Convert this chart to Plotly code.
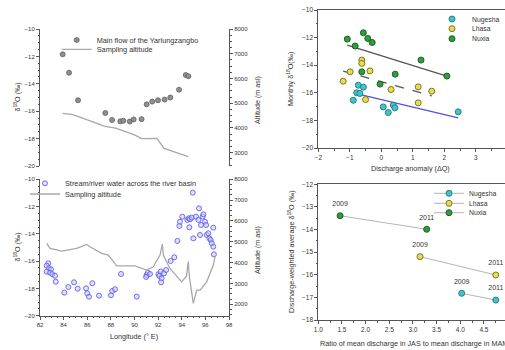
import plotly.graph_objects as go

# ---------------- data ----------------
# Top-left: main flow of the Yarlungzangbo
lon_main = [83.92, 84.46, 85.22, 87.53, 88.10, 88.80, 89.05, 89.60, 89.93, 90.60,
            91.03, 91.50, 91.99, 92.55, 93.03, 93.77, 94.34, 94.56]
d18o_main = [-11.85, -13.19, -15.20, -16.13, -16.64, -16.74, -16.70, -16.75, -16.60, -16.58,
             -15.50, -15.30, -15.20, -15.15, -15.00, -14.43, -13.36, -13.45]
lon_alt_main = [83.90, 84.70, 85.50, 86.50, 87.50, 88.40, 89.20, 90.00, 90.60, 91.40,
                91.90, 92.50, 93.50, 94.55]
alt_main = [4590, 4550, 4420, 4250, 4060, 3990, 3840, 3720, 3570, 3570,
            3580, 3170, 3010, 2840]

# Bottom-left: stream/river water across the basin
lon_basin = [82.70, 82.57, 82.76, 82.57, 82.93, 82.85, 83.04, 83.27, 83.33,
             84.06, 84.40, 84.88, 85.19, 85.90, 86.00, 86.15, 86.43, 87.00, 88.01, 88.12,
             88.35, 88.86, 90.19,
             91.03, 91.12, 91.31, 90.98, 92.02, 92.22, 92.10, 92.30, 92.25, 92.50, 92.67,
             93.06, 93.37, 93.63,
             93.80, 93.85, 94.05, 94.47, 94.59, 94.70, 94.84, 94.64, 94.93, 94.98, 95.21,
             95.46, 95.41, 95.55, 95.63, 95.77, 95.83, 95.97, 96.06, 96.11, 96.25, 96.34,
             96.45, 96.54, 96.67, 96.67, 96.72]
d18o_basin = [-16.16, -16.33, -16.52, -16.77, -16.60, -16.85, -16.96, -17.07, -17.51,
              -18.31, -17.90, -17.55, -18.02, -17.99, -18.36, -18.61, -17.62, -18.53, -18.50, -18.19,
              -18.06, -16.94, -18.60,
              -17.02, -16.85, -16.94, -17.16, -16.96, -16.77, -17.09, -17.26, -17.55, -16.89, -16.65,
              -15.99, -15.72, -14.52,
              -13.42, -13.11, -12.74, -12.98, -12.86, -12.93, -12.81, -13.52, -10.98, -14.33, -12.74,
              -12.13, -12.98, -14.08, -13.35, -12.74, -12.57, -13.11, -13.35, -14.08, -13.96, -14.33,
              -14.45, -14.69, -13.55, -14.94, -15.50]
lon_alt_basin = [82.57, 82.85, 83.84, 85.11, 85.95, 86.23, 87.22, 87.78, 88.12, 88.49,
                 90.04, 91.03, 91.59, 92.16, 92.36, 92.44, 93.00, 93.99, 94.40, 94.55,
                 94.65, 94.98, 95.27, 95.55, 96.11, 96.67, 96.82]
alt_basin = [4923, 4683, 4553, 4683, 4875, 4760, 4442, 4360, 4120, 3846,
             3846, 3640, 3800, 4360, 4890, 4360, 3720, 3077, 3350, 4050,
             3300, 2040, 2680, 2680, 3077, 3880, 4300]

# Top-right: monthly d18O vs discharge anomaly
stations = ["Nugesha", "Lhasa", "Nuxia"]
nug_dq = [-0.73, -0.57, -0.78, -0.68, -0.89, 0.06, 0.22, 0.38, 0.43, 2.44]
nug_d = [-15.45, -15.59, -16.00, -16.05, -16.54, -17.02, -17.43, -16.90, -17.09, -17.38]
lha_dq = [-1.21, -0.99, -0.62, -0.62, -0.36, -0.50, 0.31, 1.17, 1.17, 1.60]
lha_d = [-15.16, -14.48, -13.63, -13.87, -14.41, -16.49, -15.76, -15.57, -16.73, -15.88]
nux_dq = [-1.08, -0.83, -0.57, -0.43, -0.29, -0.62, -0.04, 0.44, 1.26, 2.08]
nux_d = [-12.11, -12.61, -11.65, -12.06, -12.35, -14.48, -15.37, -14.65, -13.63, -14.79]
nux_fit_x = [-1.08, 2.08]
nux_fit_y = [-12.54, -14.79]
lha_fit_x = [-1.21, 1.60]
lha_fit_y = [-14.43, -16.22]
nug_fit_x = [-0.83, 2.44]
nug_fit_y = [-16.05, -17.82]

# Bottom-right: discharge-weighted average vs ratio
years = ["2009", "2011"]
nug_ratio = [4.03, 4.75]
nug_dw = [-16.82, -17.12]
lha_ratio = [3.15, 4.75]
lha_dw = [-15.20, -16.01]
nux_ratio = [1.46, 3.29]
nux_dw = [-13.39, -13.99]

# ---------------- style ----------------
W, H = 505, 350
FONT = "Liberation Sans, Arial, sans-serif"
TXT = "#333333"
AX = "#555555"
NUG_C, NUG_L = "#3ec6cc", "#2a7f86"
LHA_C, LHA_L = "#e6dc5c", "#7f7818"
NUX_C, NUX_L = "#2f9e3a", "#1f5f25"


def fx(px):
    return px / W


def fy(py):
    return 1 - py / H


fig = go.Figure()

# Top-left
fig.add_trace(go.Scatter(x=lon_main, y=d18o_main, mode="markers", name="Main flow of the Yarlungzangbo",
                         marker=dict(size=5, color="#8f8f8f", line=dict(color="#5e5e5e", width=0.8)),
                         xaxis="x", yaxis="y", legend="legend"))
fig.add_trace(go.Scatter(x=lon_alt_main, y=alt_main, mode="lines", name="Sampling altitude",
                         line=dict(color="#a8a8a8", width=1.3),
                         xaxis="x", yaxis="y2", legend="legend2"))
# Bottom-left
fig.add_trace(go.Scatter(x=lon_basin, y=d18o_basin, mode="markers", name="Stream/river water across the river basin",
                         marker=dict(size=5, color="rgba(200,200,255,0.55)", line=dict(color="#6060e8", width=0.9)),
                         xaxis="x2", yaxis="y3", legend="legend3"))
fig.add_trace(go.Scatter(x=lon_alt_basin, y=alt_basin, mode="lines", name="Sampling altitude",
                         line=dict(color="#a8a8a8", width=1.3),
                         xaxis="x2", yaxis="y4", legend="legend4"))

# Top-right fits
fig.add_trace(go.Scatter(x=nux_fit_x, y=nux_fit_y, mode="lines", showlegend=False,
                         line=dict(color="#555555", width=1.3), xaxis="x3", yaxis="y5"))
fig.add_trace(go.Scatter(x=lha_fit_x, y=lha_fit_y, mode="lines", showlegend=False,
                         line=dict(color="#555555", width=1.3, dash="dash"), xaxis="x3", yaxis="y5"))
fig.add_trace(go.Scatter(x=nug_fit_x, y=nug_fit_y, mode="lines", showlegend=False,
                         line=dict(color="#5050e0", width=1.3), xaxis="x3", yaxis="y5"))
# Top-right points
tr_sets = [(nug_dq, nug_d, NUG_C, NUG_L, "legend5"),
           (lha_dq, lha_d, LHA_C, LHA_L, "legend6"),
           (nux_dq, nux_d, NUX_C, NUX_L, "legend7")]
for name, (xs, ys, c, lc, lg) in zip(stations, tr_sets):
    fig.add_trace(go.Scatter(x=xs, y=ys, mode="markers", name=name,
                             marker=dict(size=6, color=c, line=dict(color=lc, width=1)),
                             xaxis="x3", yaxis="y5", legend=lg))

# Bottom-right
br_sets = [(nug_ratio, nug_dw, NUG_C, NUG_L, "legend8"),
           (lha_ratio, lha_dw, LHA_C, LHA_L, "legend9"),
           (nux_ratio, nux_dw, NUX_C, NUX_L, "legend10")]
for name, (xs, ys, c, lc, lg) in zip(stations, br_sets):
    fig.add_trace(go.Scatter(x=xs, y=ys, mode="lines+markers", name=name,
                             line=dict(color="#b5b5b5", width=1),
                             marker=dict(size=6, color=c, line=dict(color=lc, width=1)),
                             xaxis="x4", yaxis="y6", legend=lg))
    fig.add_trace(go.Scatter(x=xs, y=ys, mode="markers+text", text=years, textposition="top center",
                             marker=dict(size=11, opacity=0),
                             textfont=dict(size=7, color=TXT, family=FONT), showlegend=False,
                             hoverinfo="skip", xaxis="x4", yaxis="y6"))

tickfont_l = dict(size=6, color=TXT, family=FONT)
tickfont_r = dict(size=6.5, color=TXT, family=FONT)


def yax(domain, rng, dtick, minor, side="left", anchor=None, overlay=None, font=tickfont_l):
    d = dict(domain=domain, range=rng, dtick=dtick, showgrid=False, zeroline=False, automargin=False,
             showline=True, linecolor=AX, linewidth=1, ticks="outside", ticklen=3,
             tickcolor=AX, tickfont=font, side=side,
             minor=dict(ticks="outside", ticklen=1.5, dtick=minor, tickcolor=AX, showgrid=False))
    if anchor:
        d["anchor"] = anchor
    if overlay:
        d["overlaying"] = overlay
    return d


def xax(domain, rng, dtick, minor, anchor, mirror=False, fmt=None):
    d = dict(domain=domain, range=rng, dtick=dtick, anchor=anchor, showgrid=False, zeroline=False,
             automargin=False, showline=True, mirror=mirror, linecolor=AX, linewidth=1, ticks="outside",
             ticklen=3, tickcolor=AX, tickfont=tickfont_r if mirror else tickfont_l,
             minor=dict(ticks="outside", ticklen=1.5, dtick=minor, tickcolor=AX))
    if fmt:
        d["tickformat"] = fmt
    return d


lx = [fx(40), fx(229)]
layout = dict(
    width=W, height=H, margin=dict(l=0, r=0, t=0, b=0, autoexpand=False),
    paper_bgcolor="white", plot_bgcolor="white", font=dict(family=FONT, color=TXT),
    xaxis=dict(domain=lx, range=[82, 98], visible=False, anchor="y", automargin=False),
    yaxis=yax([fy(166), fy(29)], [-20, -10], 2, 0.5, anchor="x"),
    yaxis2=yax([fy(166), fy(29)], [2460, 8000], 1000, 250, side="right", anchor="x", overlay="y"),
    xaxis2=xax(lx, [82, 98], 2, 0.5, "y3"),
    yaxis3=yax([fy(315.7), fy(179.3)], [-20, -10], 2, 0.5, anchor="x2"),
    yaxis4=yax([fy(315.7), fy(179.3)], [1450, 8000], 1000, 250, side="right", anchor="x2", overlay="y3"),
    xaxis3=xax([fx(318.3), 1.0], [-2, 3.925], 1, 0.5, "y5", mirror=True),
    yaxis5=yax([fy(148), fy(10)], [-20, -10], 2, 1, anchor="x3", font=tickfont_r),
    xaxis4=xax([fx(318.3), 1.0], [1.0, 4.945], 0.5, 0.25, "y6", mirror=True, fmt=".1f"),
    yaxis6=yax([fy(320), fy(184.3)], [-18, -12], 1, 0.5, anchor="x4", font=tickfont_r),
)


def leg(text_px, row_py, size=7.3):
    return dict(x=fx(text_px - 40), y=fy(row_py), xref="container", yref="container",
                xanchor="left", yanchor="middle",
                bgcolor="rgba(0,0,0,0)", borderwidth=0,
                font=dict(size=size, color=TXT, family=FONT), itemclick=False)


layout["legend"] = leg(96.7, 40)
layout["legend2"] = leg(96.7, 49.3)
layout["legend3"] = leg(65, 183.3)
layout["legend4"] = leg(65, 194)
layout["legend5"] = leg(472, 19, 6.8)
layout["legend6"] = leg(472, 28.7, 6.8)
layout["legend7"] = leg(472, 38.7, 6.8)
layout["legend8"] = leg(469, 193.3, 6.8)
layout["legend9"] = leg(469, 203.3, 6.8)
layout["legend10"] = leg(469, 212.7, 6.8)

fig.update_layout(**layout)

tfont = dict(size=7.2, color=TXT, family=FONT)
ann = [
    dict(x=fx(16), y=fy(97.5), text="δ<sup>18</sup>O (‰)", textangle=-90),
    dict(x=fx(16), y=fy(247.5), text="δ<sup>18</sup>O (‰)", textangle=-90),
    dict(x=fx(257), y=fy(100), text="Altitude (m asl)", textangle=-90),
    dict(x=fx(257), y=fy(250), text="Altitude (m asl)", textangle=-90),
    dict(x=fx(134), y=fy(336), text="Longitude (° E)"),
    dict(x=fx(290), y=fy(79), text="Monthly δ<sup>18</sup>O(‰)", textangle=-90),
    dict(x=fx(410), y=fy(168), text="Discharge anomaly (ΔQ)"),
    dict(x=fx(291), y=fy(252), text="Discharge-weighted average δ<sup>18</sup>O (‰)", textangle=-90),
    dict(x=fx(318), y=fy(343), text="Ratio of mean discharge in JAS to mean discharge in MAM", xanchor="left"),
]
for a in ann:
    a.setdefault("xanchor", "center")
    fig.add_annotation(xref="paper", yref="paper", showarrow=False, yanchor="middle", font=tfont, **a)

fig.write_html("out.html", config={"displayModeBar": False, "staticPlot": True},
               post_script="document.body.style.margin='0';document.body.style.overflow='hidden';")
